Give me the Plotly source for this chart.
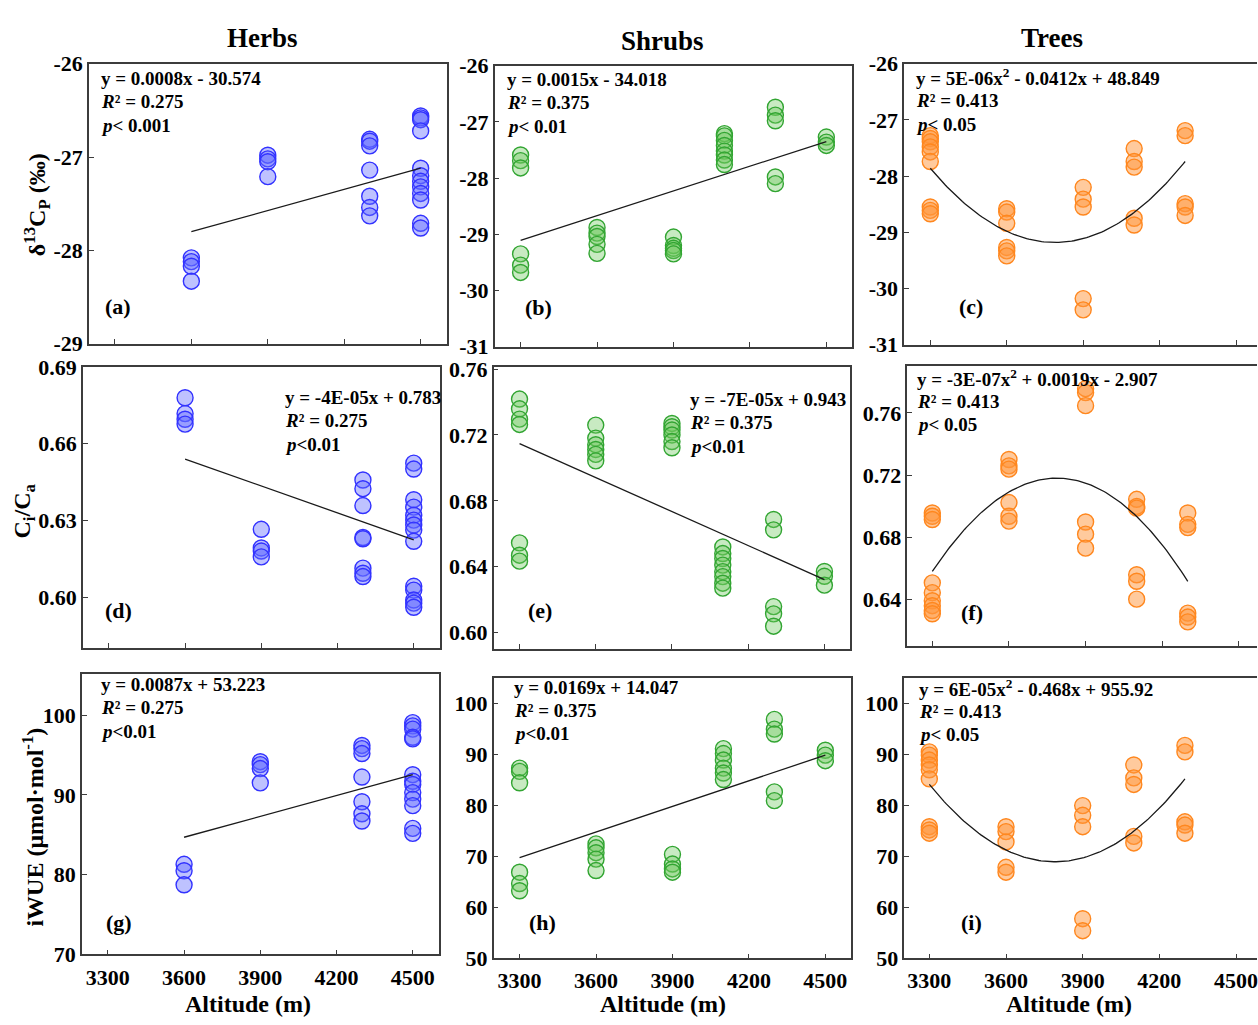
import numpy as np
import plotly.graph_objects as go

W, H = 1258, 1025
FONT = "Times New Roman, Liberation Serif, serif"

# ---------------- data ----------------
alt_herbs = [3600, 3900, 4300, 4500]
alt_shrubs = [3300, 3600, 3900, 4100, 4300, 4500]
alt_trees = [3300, 3600, 3900, 4100, 4300]

herbs_d13c = [
    [-28.08, -28.12, -28.17, -28.33],
    [-26.98, -27.02, -27.05, -27.21],
    [-26.81, -26.83, -26.88, -27.14, -27.42, -27.54, -27.63],
    [-26.56, -26.58, -26.60, -26.72, -27.12, -27.20, -27.26, -27.32, -27.39, -27.46, -27.71, -27.76],
]
shrubs_d13c = [
    [-27.59, -27.69, -27.82, -29.35, -29.55, -29.68],
    [-28.88, -28.98, -29.04, -29.18, -29.34],
    [-29.05, -29.20, -29.25, -29.29, -29.35],
    [-27.21, -27.25, -27.33, -27.42, -27.52, -27.59, -27.68, -27.76],
    [-26.74, -26.88, -26.98, -27.98, -28.10],
    [-27.27, -27.36, -27.42],
]
trees_d13c = [
    [-27.28, -27.33, -27.39, -27.48, -27.57, -27.74, -28.55, -28.61, -28.67],
    [-28.58, -28.64, -28.84, -29.27, -29.33, -29.42],
    [-28.20, -28.41, -28.55, -30.18, -30.38],
    [-27.51, -27.74, -27.84, -28.75, -28.87],
    [-27.19, -27.28, -28.49, -28.55, -28.70],
]

herbs_cica = [
    [0.678, 0.6718, 0.6696, 0.6677],
    [0.6265, 0.6192, 0.618, 0.6157],
    [0.6458, 0.6424, 0.6358, 0.6233, 0.6228, 0.6113, 0.6093, 0.608],
    [0.6524, 0.6501, 0.6381, 0.6352, 0.632, 0.6301, 0.6282, 0.6262, 0.6218,
     0.6042, 0.6027, 0.5988, 0.5976, 0.596],
]
shrubs_cica = [
    [0.7418, 0.7359, 0.7296, 0.7264, 0.6545, 0.647, 0.6434],
    [0.726, 0.7181, 0.7141, 0.7112, 0.7082, 0.7043],
    [0.727, 0.725, 0.723, 0.720, 0.716, 0.7122],
    [0.652, 0.648, 0.645, 0.641, 0.637, 0.634, 0.630, 0.627],
    [0.6687, 0.6624, 0.6158, 0.6114, 0.6039],
    [0.6371, 0.6342, 0.6288],
]
trees_cica = [
    [0.6956, 0.6935, 0.6914, 0.6507, 0.6444, 0.6392, 0.636, 0.6329, 0.6308],
    [0.730, 0.7259, 0.7238, 0.7023, 0.6935, 0.6904],
    [0.7755, 0.773, 0.7646, 0.6898, 0.682, 0.673],
    [0.7044, 0.6998, 0.6987, 0.6559, 0.6517, 0.6402],
    [0.6956, 0.6883, 0.6862, 0.6312, 0.6287, 0.6256],
]

herbs_iwue = [
    [81.3, 80.49, 78.73],
    [94.16, 93.8, 93.3, 91.51],
    [96.2, 95.8, 95.18, 92.24, 89.14, 87.63, 86.73],
    [99.06, 98.65, 98.24, 97.22, 97.02, 92.53, 91.71, 91.31, 90.29, 89.47, 88.65, 85.8, 85.18],
]
shrubs_iwue = [
    [87.36, 86.72, 84.48, 66.92, 64.69, 63.28],
    [72.48, 71.71, 70.75, 69.48, 67.24],
    [70.43, 68.52, 67.56, 66.92],
    [91.19, 90.23, 88.95, 87.36, 86.4, 85.12],
    [96.93, 95.02, 94.06, 82.69, 80.97],
    [90.87, 89.91, 88.82],
]
trees_iwue = [
    [90.55, 89.91, 88.95, 87.99, 87.04, 85.25, 75.86, 75.22, 74.58],
    [75.86, 74.9, 72.86, 67.88, 66.92],
    [80.0, 78.1, 75.86, 57.79, 55.43],
    [87.99, 85.44, 84.16, 73.95, 72.67],
    [91.83, 90.55, 76.82, 76.18, 74.58],
]

# trend lines (linear: end points; quadratic: three points on the curve)
fit_a = ([3600, 4500], [-27.80, -27.12])
fit_b = ([3300, 4500], [-29.11, -27.35])
fit_c = ([3300, 3800, 4300], [-27.86, -29.18, -27.74])
fit_d = ([3600, 4500], [0.654, 0.6224])
fit_e = ([3300, 4500], [0.7148, 0.6322])
fit_f = ([3300, 3780, 4300], [0.658, 0.718, 0.6517])
fit_g = ([3600, 4500], [84.69, 92.53])
fit_h = ([3300, 4500], [69.8, 89.91])
fit_i = ([3300, 3790, 4300], [84.16, 68.97, 85.25])

eq_text = {
    "a": ["y = 0.0008x - 30.574", "<i>R</i>² = 0.275", "<i>p</i>< 0.001"],
    "b": ["y = 0.0015x - 34.018", "<i>R</i>² = 0.375", "<i>p</i>< 0.01"],
    "c": ["y = 5E-06x<sup>2</sup> - 0.0412x + 48.849", "<i>R</i>² = 0.413", "<i>p</i>< 0.05"],
    "d": ["y = -4E-05x + 0.783", "<i>R</i>² = 0.275", "<i>p</i><0.01"],
    "e": ["y = -7E-05x + 0.943", "<i>R</i>² = 0.375", "<i>p</i><0.01"],
    "f": ["y = -3E-07x<sup>2</sup> + 0.0019x - 2.907", "<i>R</i>² = 0.413", "<i>p</i>< 0.05"],
    "g": ["y = 0.0087x + 53.223", "<i>R</i>² = 0.275", "<i>p</i><0.01"],
    "h": ["y = 0.0169x + 14.047", "<i>R</i>² = 0.375", "<i>p</i><0.01"],
    "i": ["y = 6E-05x<sup>2</sup> - 0.468x + 955.92", "<i>R</i>² = 0.413", "<i>p</i>< 0.05"],
}
col_titles = ["Herbs", "Shrubs", "Trees"]
y_titles = ["δ<sup>13</sup>C<sub>P</sub> (‰)", "C<sub>i</sub>/C<sub>a</sub>", "iWUE (μmol·mol<sup>-1</sup>)"]
x_title = "Altitude (m)"
x_ticks = [3300, 3600, 3900, 4200, 4500]

# ---------------- styles ----------------
styles = {
    "herbs": dict(line="rgb(50,50,255)", fill="rgba(100,110,255,0.42)"),
    "shrubs": dict(line="rgb(50,165,50)", fill="rgba(110,200,95,0.38)"),
    "trees": dict(line="rgb(255,135,30)", fill="rgba(255,150,60,0.50)"),
}

# panel geometry in pixels: (left, right, top, bottom), x-range, y-range, y-ticks, decimals
panels = [
    ("a", "herbs", alt_herbs, herbs_d13c, fit_a, (89, 447, 53, 340), (3198, 4602), (-29, -26), [-29, -28, -27, -26], 0),
    ("b", "shrubs", alt_shrubs, shrubs_d13c, fit_b, (495, 853, 55, 343), (3198, 4602), (-31, -26), [-31, -30, -29, -28, -27, -26], 0),
    ("c", "trees", alt_trees, trees_d13c, fit_c, (905, 1258, 53, 341), (3198, 4582), (-31, -26), [-31, -30, -29, -28, -27, -26], 0),
    ("d", "herbs", alt_herbs, herbs_cica, fit_d, (83, 440, 364, 652), (3198, 4602), (0.58, 0.69), [0.60, 0.63, 0.66, 0.69], 2),
    ("e", "shrubs", alt_shrubs, shrubs_cica, fit_e, (494, 851, 364, 653), (3198, 4602), (0.59, 0.7612), [0.60, 0.64, 0.68, 0.72, 0.76], 2),
    ("f", "trees", alt_trees, trees_cica, fit_f, (908, 1258, 363, 650), (3202, 4571), (0.61, 0.79), [0.64, 0.68, 0.72, 0.76], 2),
    ("g", "herbs", alt_herbs, herbs_iwue, fit_g, (82, 439, 679, 966), (3198, 4602), (70, 105.1), [70, 80, 90, 100], 0),
    ("h", "shrubs", alt_shrubs, shrubs_iwue, fit_h, (494, 852, 683, 970), (3198, 4602), (50, 105), [50, 60, 70, 80, 90, 100], 0),
    ("i", "trees", alt_trees, trees_iwue, fit_i, (905, 1258, 683, 970), (3202, 4582), (50, 105), [50, 60, 70, 80, 90, 100], 0),
]

eq_pos = {  # left x, first-line y (pixels)
    "a": (99, 68), "b": (505, 69), "c": (915, 67),
    "d": (283, 395), "e": (689, 397), "f": (916, 375),
    "g": (99, 689), "h": (512, 692), "i": (918, 693),
}
lab_pos = {
    "a": (118, 302), "b": (539, 303), "c": (972, 302),
    "d": (119, 613), "e": (540, 613), "f": (973, 615),
    "g": (119, 933), "h": (543, 933), "i": (972, 933),
}

def px(x):
    return x / W

def py(y):
    return 1 - y / H

fig = go.Figure()
annotations = []
AXCOL = "#3c3c3c"
TICKFONT = dict(family=FONT, size=22, color="black", weight="bold")

for k, (name, grp, alts, vals, fit, box, xr, yr, yt, dec) in enumerate(panels):
    idx = "" if k == 0 else str(k + 1)
    xa, ya = "x" + idx, "y" + idx
    st = styles[grp]
    xs, ys = [], []
    for a, vs in zip(alts, vals):
        xs += [a] * len(vs)
        ys += vs
    fx, fy = fit
    if len(fx) == 2:
        lx, ly = fx, fy
    else:
        coef = np.polyfit(fx, fy, 2)
        lx = np.linspace(fx[0], fx[-1], 120)
        ly = np.polyval(coef, lx)
    fig.add_trace(go.Scatter(x=xs, y=ys, mode="markers", xaxis=xa, yaxis=ya,
                             marker=dict(size=16, color=st["fill"],
                                         line=dict(color=st["line"], width=1.4)),
                             showlegend=False, hoverinfo="skip"))
    fig.add_trace(go.Scatter(x=list(lx), y=list(ly), mode="lines", xaxis=xa, yaxis=ya,
                             line=dict(color="#1a1a1a", width=1.3),
                             showlegend=False, hoverinfo="skip"))
    l, r, t, b = box
    row = k // 3
    col = k % 3
    xaxis = dict(domain=[px(l), min(px(r), 1.0)], range=list(xr), anchor=ya,
                 tickvals=x_ticks, ticktext=[str(v) for v in x_ticks], showticklabels=(row == 2),
                 ticks="inside", ticklen=5, tickwidth=1.3, tickcolor=AXCOL,
                 ticklabelstandoff=2, ticklabeloverflow="allow",
                 showline=True, linecolor=AXCOL, linewidth=1.5, mirror=True,
                 showgrid=False, zeroline=False, tickfont=TICKFONT)
    yaxis = dict(domain=[py(b), py(t)], range=list(yr), anchor=xa,
                 tickvals=yt, ticktext=[f"{v:.{dec}f}" for v in yt],
                 ticks="inside", ticklen=5, tickwidth=1.3, tickcolor=AXCOL,
                 showline=True, linecolor=AXCOL, linewidth=1.5, mirror=(col != 2),
                 showgrid=False, zeroline=False, tickfont=TICKFONT)
    fig.update_layout(**{"xaxis" + idx: xaxis, "yaxis" + idx: yaxis})

    ex, ey = eq_pos[name]
    for j, line in enumerate(eq_text[name]):
        annotations.append(dict(x=px(ex), y=py(ey + j * 24), xref="paper", yref="paper",
                                text=line, showarrow=False, xanchor="left", yanchor="middle",
                                font=dict(family=FONT, size=19, color="black", weight="bold")))
    lx0, ly0 = lab_pos[name]
    annotations.append(dict(x=px(lx0), y=py(ly0), xref="paper", yref="paper",
                            text="(" + name + ")", showarrow=False, xanchor="center", yanchor="middle",
                            font=dict(family=FONT, size=22, color="black", weight="bold")))

for t, (cx, cy) in zip(col_titles, [(263, 27), (663, 30), (1053, 27)]):
    annotations.append(dict(x=px(cx), y=py(cy), xref="paper", yref="paper", text=t,
                            showarrow=False, xanchor="center", yanchor="middle",
                            font=dict(family=FONT, size=27, color="black", weight="bold")))

for t, (cx, cy) in zip(y_titles, [(37, 197), (24, 511), (33, 835)]):
    annotations.append(dict(x=px(cx), y=py(cy), xref="paper", yref="paper", text=t,
                            showarrow=False, xanchor="center", yanchor="middle", textangle=-90,
                            font=dict(family=FONT, size=24, color="black", weight="bold")))

for cx in [248, 664, 1070]:
    annotations.append(dict(x=px(cx), y=0, xref="paper", yref="paper", text=x_title,
                            showarrow=False, xanchor="center", yanchor="bottom", yshift=-7,
                            font=dict(family=FONT, size=24, color="black", weight="bold")))

fig.update_layout(width=W, height=H, margin=dict(l=0, r=0, t=0, b=0),
                  paper_bgcolor="white", plot_bgcolor="white",
                  annotations=annotations, showlegend=False)

fig.write_html("out.html")
